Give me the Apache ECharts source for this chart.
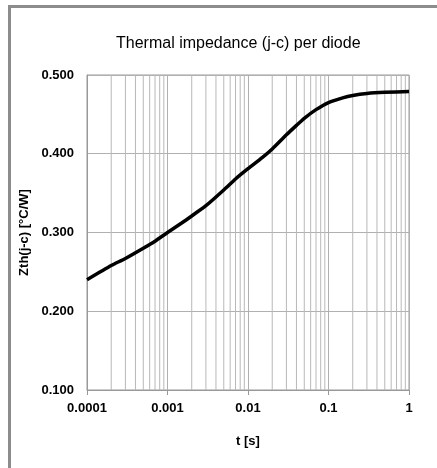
<!DOCTYPE html>
<html>
<head>
<meta charset="utf-8">
<script src="https://cdn.jsdelivr.net/npm/echarts@6/dist/echarts.min.js"></script>
<style>
  html, body { margin: 0; padding: 0; background: #fff; }
  #chart { width: 437px; height: 468px; }
</style>
</head>
<body>
<div id="chart"></div>
<script>
  // Zth curve
  var timeS = [0.0001, 0.0002, 0.0003, 0.0005, 0.0007, 0.001, 0.0015, 0.002, 0.003, 0.005, 0.007,
    0.01, 0.015, 0.02, 0.03, 0.04, 0.05, 0.07, 0.1, 0.15, 0.2, 0.3, 0.5, 1];
  var zth = [0.240, 0.258, 0.267, 0.280, 0.289, 0.300, 0.312, 0.321, 0.334, 0.354, 0.368,
    0.381, 0.395, 0.406, 0.424, 0.436, 0.445, 0.456, 0.465, 0.471, 0.474, 0.4765, 0.478, 0.479];
  var xTickLabels = ["0.0001", "0.001", "0.01", "0.1", "1"];
  var yTickLabels = ["0.100", "0.200", "0.300", "0.400", "0.500"];
  var minorMult = [2, 3, 4, 5, 6, 7, 8, 9];
  var decades = [0.0001, 0.001, 0.01, 0.1];

  // minor vertical grid lines (2..9 in each decade), drawn as plain line series
  var gridSeries = [];
  decades.forEach(function(d) {
    minorMult.forEach(function(m) {
      var x = +(d * m).toPrecision(3);
      gridSeries.push({
        type: "line",
        data: [[x, 0.1], [x, 0.5]],
        symbol: "none",
        silent: true,
        lineStyle: { color: "#b8b8b8", width: 1 },
        z: 1
      });
    });
  });

  var labelFont = { fontFamily: "Liberation Sans", fontWeight: "bold", fontSize: 13, color: "#000" };
  var chart = echarts.init(document.getElementById("chart"));
  chart.setOption({
    animation: false,
    title: {
      text: "Thermal impedance (j-c) per diode",
      left: 111,
      top: 31,
      textStyle: { fontFamily: "Liberation Sans", fontWeight: "normal", fontSize: 16, color: "#000" }
    },
    graphic: [{
      type: "rect",
      shape: { x: 9.5, y: 6.5, width: 600, height: 600 },
      style: { fill: "none", stroke: "#8c8c8c", lineWidth: 3 },
      silent: true
    }],
    grid: {
      left: 87, top: 75, right: 28, bottom: 78,
      show: true, borderColor: "#999", borderWidth: 1
    },
    xAxis: {
      type: "log",
      logBase: 10,
      min: 0.0001,
      max: 1,
      name: "t [s]",
      nameLocation: "middle",
      nameGap: 45,
      nameTextStyle: labelFont,
      axisLine: { lineStyle: { color: "#999", width: 1 } },
      axisTick: { show: true, length: 5, lineStyle: { color: "#999" } },
      axisLabel: {
        margin: 12,
        fontFamily: "Liberation Sans", fontWeight: "bold", fontSize: 13, color: "#000",
        formatter: function(v) { return xTickLabels[Math.round(Math.log10(v)) + 4]; }
      },
      splitLine: { show: true, lineStyle: { color: "#b0b0b0", width: 1 } },
      minorTick: { show: false },
      minorSplitLine: { show: false }
    },
    yAxis: {
      type: "value",
      min: 0.1,
      max: 0.5,
      interval: 0.1,
      name: "Zth(j-c) [°C/W]",
      nameLocation: "middle",
      nameGap: 54,
      nameTextStyle: { fontFamily: "Liberation Sans", fontWeight: "bold", fontSize: 13, color: "#000" },
      axisLine: { show: true, lineStyle: { color: "#999" } },
      axisTick: { show: false },
      axisLabel: {
        margin: 13,
        fontFamily: "Liberation Sans", fontWeight: "bold", fontSize: 13, color: "#000",
        formatter: function(v) { return yTickLabels[Math.round(v * 10) - 1]; }
      },
      splitLine: { show: true, lineStyle: { color: "#b0b0b0", width: 1 } }
    },
    series: gridSeries.concat([{
      type: "line",
      data: timeS.map(function(t, i) { return [t, zth[i]]; }),
      smooth: 0.2,
      symbol: "none",
      lineStyle: { color: "#000", width: 3.5 },
      z: 3
    }])
  });
</script>
</body>
</html>
